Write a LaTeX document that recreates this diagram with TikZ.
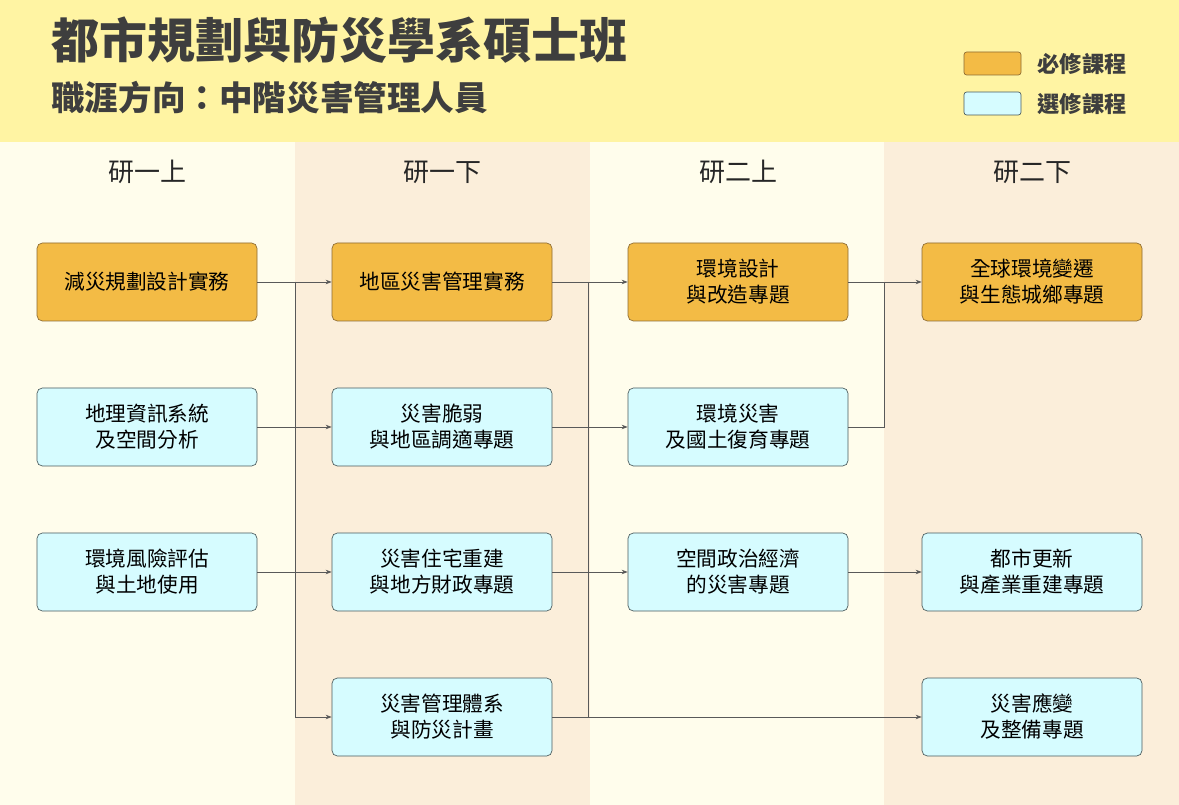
\documentclass[tikz,border=0pt]{standalone}
\usepackage{fontspec}
\setmainfont{Noto Sans CJK TC}
\usetikzlibrary{arrows.meta, positioning}
\definecolor{bandfill}{HTML}{FFF4A3}
\definecolor{termlight}{HTML}{FFFDEC}
\definecolor{termbeige}{HTML}{FBEEDA}
\definecolor{reqfill}{HTML}{F3BB45}
\definecolor{reqline}{HTML}{8C6A32}
\definecolor{elefill}{HTML}{D6FCFF}
\definecolor{eleline}{HTML}{4A5A5C}
\definecolor{inkdark}{HTML}{3E3E3E}
\tikzset{
  reqbox/.style  = {font=\fontsize{15.5}{19.5}\selectfont, align=center,
                     rounded corners=4pt, draw=reqline, fill=reqfill,
                     line width=0.5pt, minimum width=165pt,
                     minimum height=58.5pt, inner sep=2pt},
  elebox/.style  = {reqbox, fill=elefill, draw=eleline},
  legbox/.style  = {rounded corners=2pt, line width=0.5pt,
                     minimum width=42.75pt, minimum height=17.25pt},
  leglbl/.style  = {font=\bfseries\fontsize{16.7}{18}\selectfont,
                     text=inkdark, anchor=west, inner sep=0pt},
  termhdr/.style = {font=\fontsize{19.5}{22}\selectfont, text=black!85},
  link/.style    = {draw=black!65, line width=0.6pt},
  flow/.style    = {link, -{Stealth[length=1.6mm, width=1.2mm]}},
}

\begin{document}
\begin{tikzpicture}[x=0.75pt, y=-0.75pt]
  \useasboundingbox (0,0) rectangle (1179,805);
  % backgrounds
  \fill[bandfill] (0,0) rectangle (1179,142);
  \fill[termlight] (0,142) rectangle (295,805);
  \fill[termbeige] (295,142) rectangle (590,805);
  \fill[termlight] (590,142) rectangle (884,805);
  \fill[termbeige] (884,142) rectangle (1179,805);

  % titles
  \node[anchor=west, inner sep=0pt, text=inkdark,
        font=\bfseries\fontsize{36}{40}\selectfont] (title) at (51,40)
       {都市規劃與防災學系碩士班};
  \node[anchor=west, inner sep=0pt, text=inkdark,
        font=\bfseries\fontsize{25.2}{28}\selectfont] (subtitle) at (51,98)
       {職涯方向：中階災害管理人員};

  % legend
  \node[legbox, draw=reqline, fill=reqfill] (legreq) at (992.5,63.5) {};
  \node[legbox, draw=eleline, fill=elefill] (legele) at (992.5,103.5) {};
  \node[leglbl, right=12pt of legreq] (legreqt) {必修課程};
  \node[leglbl, right=12pt of legele] (legelet) {選修課程};

  % terms
  \node[termhdr] (t1) at (147,172) {研一上};
  \node[termhdr] (t2) at (442,172) {研一下};
  \node[termhdr] (t3) at (738,172) {研二上};
  \node[termhdr] (t4) at (1032,172) {研二下};

  % first year, first term
  \node[reqbox] (m1) at (147,282) {減災規劃設計實務};
  \node[elebox] (m2) at (147,427) {地理資訊系統\\及空間分析};
  \node[elebox] (m3) at (147,572) {環境風險評估\\與土地使用};

  % first year, second term
  \node[reqbox] (n1) at (442,282) {地區災害管理實務};
  \node[elebox] (n2) at (442,427) {災害脆弱\\與地區調適專題};
  \node[elebox] (n3) at (442,572) {災害住宅重建\\與地方財政專題};
  \node[elebox] (n4) at (442,717) {災害管理體系\\與防災計畫};

  % second year, first term
  \node[reqbox] (p1) at (738,282) {環境設計\\與改造專題};
  \node[elebox] (p2) at (738,427) {環境災害\\及國土復育專題};
  \node[elebox] (p3) at (738,572) {空間政治經濟\\的災害專題};

  % second year, second term
  \node[reqbox] (q1) at (1032,282) {全球環境變遷\\與生態城鄉專題};
  \node[elebox] (q3) at (1032,572) {都市更新\\與產業重建專題};
  \node[elebox] (q4) at (1032,717) {災害應變\\及整備專題};

  \coordinate (busA) at (295,282);
  \coordinate (busB) at (588,282);
  \coordinate (busC) at (884,282);

  % connectors
  \draw[flow] (m1) -- (n1);
  \draw[flow] (m2) -- (n2);
  \draw[flow] (m3) -- (n3);
  \draw[flow] (busA) |- (n4.west);

  \draw[flow] (n1) -- (p1);
  \draw[flow] (n2) -- (p2);
  \draw[flow] (n3) -- (p3);
  \draw[flow] (n4) -- (q4);
  \draw[link] (busB) -- (n4.east -| busB);

  \draw[flow] (p1) -- (q1);
  \draw[link] (p2.east) -| (busC);
  \draw[flow] (p3) -- (q3);
\end{tikzpicture}
\end{document}
